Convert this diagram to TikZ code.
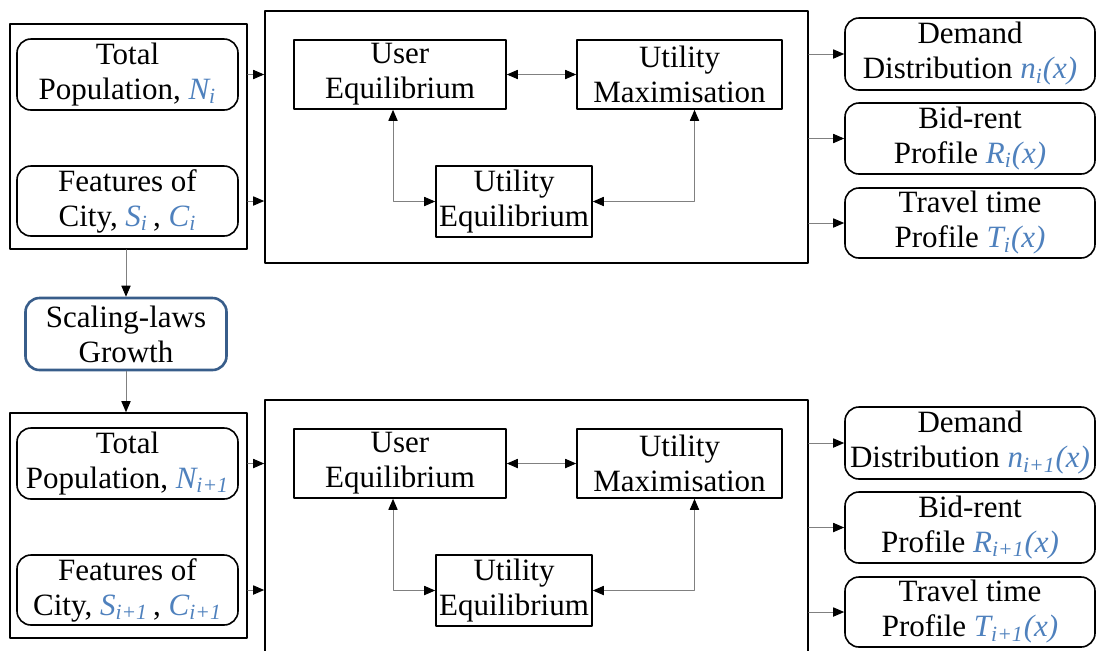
\documentclass[tikz,border=0pt]{standalone}
\usepackage{fontspec}
\setmainfont{Liberation Serif}
\usetikzlibrary{arrows.meta}
\usetikzlibrary{positioning}
\definecolor{varblue}{RGB}{79,129,189}
\definecolor{lawblue}{RGB}{56,93,138}
\newcommand{\bl}[1]{\textcolor{varblue}{\textit{#1}}}

\begin{document}
\begin{tikzpicture}[line cap=round,line join=round,>={Triangle[length=5.5pt,width=4.6pt,color=black]},x=0.5pt,y=-0.5pt,
  font=\fontsize{15.5}{17.5}\selectfont,
  frame/.style={draw,line width=0.8pt,inner sep=0pt},
  block/.style={draw,line width=0.8pt,align=center,inner sep=0pt},
  pill/.style={block,rounded corners=7pt},
  law/.style={draw=lawblue,line width=1.3pt,rounded corners=7pt,align=center,inner sep=0pt},
  link/.style={->,draw=black!50,line width=0.5pt},
  twolink/.style={<->,draw=black!50,line width=0.5pt}]
\clip(0,0) rectangle (1101,650);
% the two time steps
\foreach \dy/\k/\idx in {0/a/i,389/b/{i+1}} {
  \node [frame,minimum width=118.5pt,minimum height=112.5pt] (lbox\k) at (128.5,{136.5+\dy}) {};
  \node [pill,minimum width=110.5pt,minimum height=35.5pt] (pop\k) at (127.5,{74.5+\dy}) {Total\\Population, \bl{N\textsubscript{\idx}}};
  \node [pill,minimum width=110.5pt,minimum height=35pt] (feat\k) at (127.5,{201+\dy}) {Features of\\City, \bl{S\textsubscript{\idx}}\,, \bl{C\textsubscript{\idx}}};
  \node [frame,minimum width=271.5pt,minimum height=126pt] (mbox\k) at (536.5,{137+\dy}) {};
  \node [block,minimum width=106pt,minimum height=34.5pt] (ue\k) at (400,{74.5+\dy}) {User\\Equilibrium};
  \node [block,minimum width=102.5pt,minimum height=34.5pt] (um\k) at (679.5,{74.5+\dy}) {Utility\\Maximisation};
  \node [block,minimum width=78pt,minimum height=35.5pt] (ueq\k) at (514,{201.5+\dy}) {Utility\\Equilibrium};
  \node [pill,minimum width=125pt,minimum height=36pt] (dd\k) at (970,{54+\dy}) {Demand\\Distribution \bl{n\textsubscript{\idx}(x)}};
  \node [pill,minimum width=125pt,minimum height=35.5pt] (br\k) at (970,{138.5+\dy}) {Bid-rent\\Profile \bl{R\textsubscript{\idx}(x)}};
  \node [pill,minimum width=125pt,minimum height=35pt] (tt\k) at (970,{223+\dy}) {Travel time\\Profile \bl{T\textsubscript{\idx}(x)}};
  \draw [link] (pop\k.east -| lbox\k.east) -- (pop\k.east -| mbox\k.west);
  \draw [link] (feat\k.east -| lbox\k.east) -- (feat\k.east -| mbox\k.west);
  \draw [twolink] (ue\k) -- (um\k);
  \draw [twolink] ([xshift=-3.5pt]ue\k.south) |- (ueq\k);
  \draw [twolink] ([xshift=7.5pt]um\k.south) |- (ueq\k);
  \foreach \out in {dd,br,tt}
    \draw [link] (\out\k.west -| mbox\k.east) -- (\out\k.west);
}
\node [law,minimum width=100.5pt,minimum height=36pt] (grow) at (126,334) {Scaling-laws\\Growth};
\draw [link] (lboxa.south -| grow.north) -- (grow.north);
\draw [link] (grow.south) -- (grow.south |- lboxb.north);
\end{tikzpicture}
\end{document}
